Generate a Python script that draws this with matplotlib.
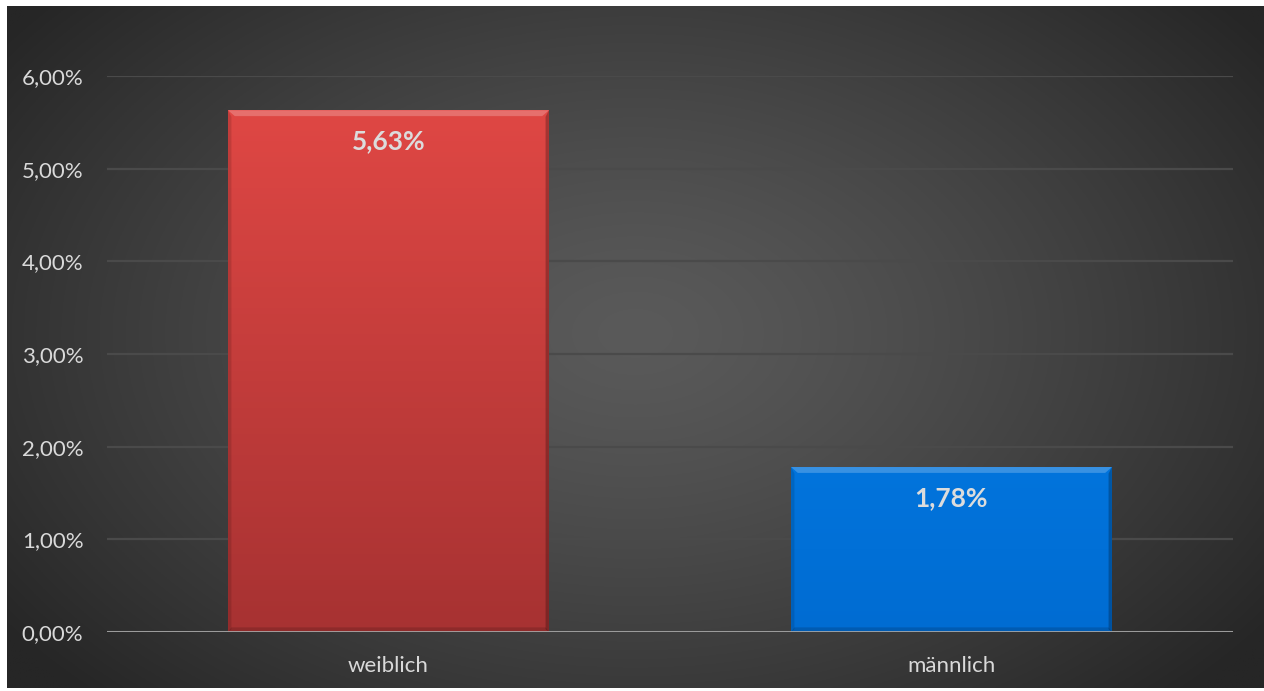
import numpy as np
import matplotlib.pyplot as plt
from matplotlib.ticker import FuncFormatter

categories = ['weiblich', 'männlich']
values = [5.63, 1.78]          # percent
yticks = [0, 1, 2, 3, 4, 5, 6]

plt.rcParams['font.family'] = ['Lato', 'DejaVu Sans']

W, H = 1264, 691
fig = plt.figure(figsize=(W / 100, H / 100), dpi=100)
fig.patch.set_facecolor('white')

# radial background
bg = fig.add_axes([7 / W, 3 / H, (W - 7) / W, (H - 9) / H])
bg.set_axis_off()
yy, xx = np.mgrid[0:1:400j, 0:1:700j]
r = np.sqrt(((xx - 0.5) / 0.62) ** 2 + ((yy - 0.48) / 0.75) ** 2)
r = np.clip(r, 0, 1)
c0, c1 = 0x5a / 255, 0x26 / 255
shade = c0 + (c1 - c0) * r ** 1.3
bg.imshow(np.dstack([shade] * 3), aspect='auto', extent=[0, 1, 0, 1])

ax = fig.add_axes([107 / W, 59 / H, 1126 / W, 556 / H])
ax.patch.set_alpha(0)
ax.set_ylim(0, 6)
ax.set_xlim(-0.5, 1.5)
ax.set_yticks(yticks)
ax.yaxis.set_major_formatter(FuncFormatter(lambda v, p: f'{v:.2f}%'.replace('.', ',')))
ax.grid(axis='y', color='#4a4a4a', lw=1.6)
ax.set_axisbelow(True)
for s in ax.spines.values():
    s.set_visible(False)
ax.axhline(0, color='#a6a6a6', lw=2, zorder=5)
ax.tick_params(length=0, colors='#d9d9d9', labelsize=16)
ax.tick_params(axis='y', pad=17)
ax.tick_params(axis='x', pad=17)
ax.set_xticks(range(len(categories)))
ax.set_xticklabels(categories)

tops = [('#df4744', '#a73232'), ('#0274dc', '#006cd2')]
bars = ax.bar(range(len(categories)), values, width=0.57, color='none', zorder=3)
for b, (ct, cb) in zip(bars, tops):
    x0, w, h = b.get_x(), b.get_width(), b.get_height()
    t = np.linspace(0, 1, 100)[:, None]
    a = np.array(plt.matplotlib.colors.to_rgb(ct))
    z = np.array(plt.matplotlib.colors.to_rgb(cb))
    grad = (a * (1 - t[..., None]) + z * t[..., None])
    grad = np.repeat(grad, 2, axis=1)
    ax.imshow(grad, extent=[x0, x0 + w, 0, h], aspect='auto', zorder=3)
    # bevel: light top strip and darker sides
    lt = 0.07
    ax.fill([x0, x0 + w, x0 + w - 0.012, x0 + 0.012], [h, h, h - lt * 0.9, h - lt * 0.9],
            color='white', alpha=0.22, lw=0, zorder=4)
    ax.fill([x0 + w, x0 + w, x0 + w - 0.006, x0 + w - 0.006], [0, h, h - lt, 0.03],
            color='black', alpha=0.25, lw=0, zorder=4)
    ax.fill([x0, x0, x0 + 0.006, x0 + 0.006], [0, h, h - lt, 0.03],
            color='black', alpha=0.12, lw=0, zorder=4)
    ax.fill([x0, x0 + w, x0 + w - 0.006, x0 + 0.006], [0, 0, 0.05, 0.05],
            color='black', alpha=0.15, lw=0, zorder=4)
    ax.annotate(f'{h:.2f}%'.replace('.', ','), (x0 + w / 2, h), xytext=(0, -31),
                textcoords='offset pixels', ha='center', va='center',
                color='#dcdcdc', fontsize=19, fontweight='bold', zorder=6)

ax.set_xlim(-0.5, 1.5)
ax.set_ylim(0, 6)
fig.savefig('out.png', dpi=100)
